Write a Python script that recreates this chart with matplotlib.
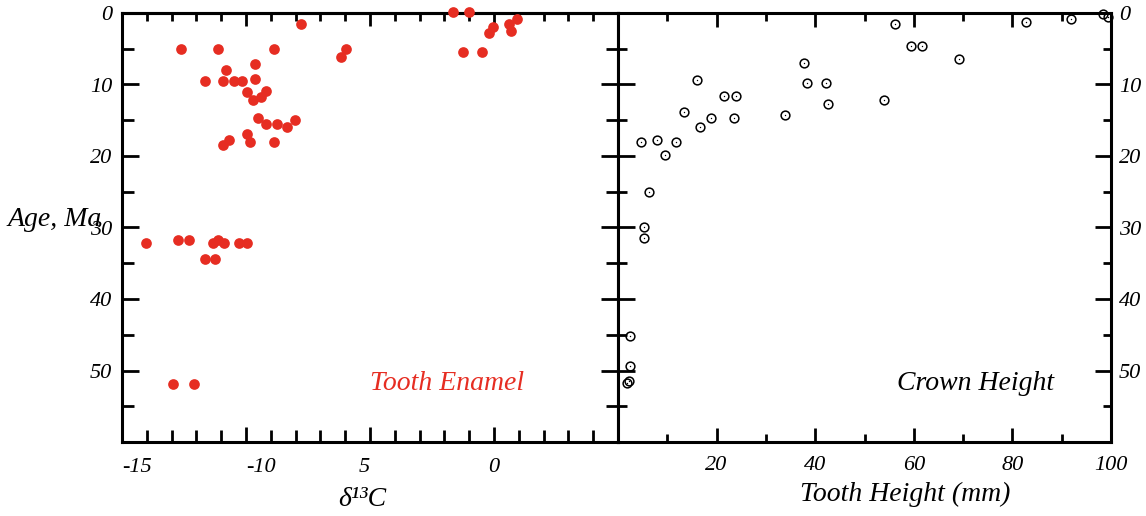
import matplotlib.pyplot as plt
from matplotlib import transforms
import numpy as np

plt.rcParams['font.family'] = ['Liberation Serif', 'DejaVu Serif']
plt.rcParams['font.style'] = 'italic'

# tooth enamel d13C (per mil) vs age (Ma)
enamel_d13c = [-12.63, -11.13, -8.87, -5.97, -6.17, -9.63, -10.81, -11.65, -10.92, -10.48,
               -10.15, -9.63, -9.95, -9.19, -9.40, -9.73, -9.53, -9.19, -8.76, -8.33,
               -8.01, -10.69, -10.92, -9.95, -9.84, -8.87, -7.79, -1.67, -1.02, -0.03,
               -0.19, 0.59, 0.94, 0.70, -1.24, -0.48, -14.03, -12.74, -12.31, -11.34,
               -11.12, -10.89, -10.27, -9.95, -11.67, -11.24, -12.96, -12.08]
enamel_age = [5.0, 5.0, 5.0, 5.0, 6.2, 7.2, 8.0, 9.5, 9.5, 9.5,
              9.5, 9.2, 11.0, 10.9, 11.7, 12.2, 14.7, 15.5, 15.5, 15.9,
              15.0, 17.7, 18.4, 16.9, 18.1, 18.1, 1.5, -0.2, -0.2, 1.9,
              2.8, 1.5, 0.9, 2.5, 5.4, 5.4, 32.2, 31.8, 31.8, 32.2,
              31.7, 32.2, 32.2, 32.2, 34.4, 34.4, 51.9, 51.9]

# crown height (mm) vs age (Ma)
crown_height = [37.7, 16.1, 38.3, 42.1, 21.4, 24.0, 42.5, 13.4, 18.8, 23.6,
                33.9, 16.6, 4.6, 7.9, 11.7, 9.6, 6.3, 5.2, 5.2, 56.2,
                59.4, 61.6, 69.2, 53.9, 82.7, 91.8, 98.3, 99.3, 2.4, 2.4,
                2.2, 1.8]
crown_age = [7.0, 9.4, 9.8, 9.8, 11.6, 11.6, 12.7, 13.9, 14.7, 14.7,
             14.3, 15.9, 18.0, 17.7, 18.0, 19.9, 25.1, 29.9, 31.5, 1.6,
             4.6, 4.6, 6.4, 12.1, 1.3, 0.8, 0.1, 0.5, 45.2, 49.4,
             51.5, 51.8]

age_ticks = [0, 10, 20, 30, 40, 50]
d13c_ticks = [-15, -10, -5, 0]
d13c_labels = ['-15', '-10', '5', '0']
height_ticks = [20, 40, 60, 80, 100]

red = '#e62d22'
W, H = 1146, 516
fig = plt.figure(figsize=(W / 100, H / 100), dpi=100)
axL = fig.add_axes([122 / W, 74 / H, 496 / W, 429 / H])
axR = fig.add_axes([618 / W, 74 / H, 493 / W, 429 / H])

def px(p):
    return p * 0.72

for ax in (axL, axR):
    for s in ax.spines.values():
        s.set_linewidth(2.2)
    ax.set_ylim(60, 0)
    ax.tick_params(labelbottom=False, labelleft=False)

# left panel
axL.set_xlim(-15, 5)
axL.set_xticks([-10, -5, 0])
axL.set_xticks(np.arange(-14, 5), minor=True)
axL.tick_params(axis='x', which='major', direction='in', length=px(15), width=2, top=False)
axL.tick_params(axis='x', which='minor', direction='in', length=px(12), width=2, top=False)
top = axL.secondary_xaxis('top')
top.set_xticks([-10, -5, 0])
top.set_xticks(np.arange(-14, 5), minor=True)
top.tick_params(which='major', direction='in', length=px(13), width=2, labeltop=False)
top.tick_params(which='minor', direction='in', length=px(8), width=2, labeltop=False)
top.spines['top'].set_linewidth(2.2)
axL.set_yticks(np.arange(10, 60, 10))
axL.set_yticks(np.arange(5, 60, 10), minor=True)
axL.tick_params(axis='y', which='major', direction='in', length=px(17), width=2, left=True, right=True)
axL.tick_params(axis='y', which='minor', direction='in', length=px(12), width=2, left=True, right=True)
axL.plot(enamel_d13c, enamel_age, 'o', ms=7.7, color=red, mec='none', clip_on=False, zorder=3)

# right panel
axR.set_xlim(0, 100)
axR.set_xticks(np.arange(20, 100, 20))
axR.set_xticks(np.arange(10, 100, 20), minor=True)
axR.tick_params(axis='x', which='major', direction='in', length=px(14), width=2, top=True)
axR.tick_params(axis='x', which='minor', direction='in', length=px(8), width=2, top=True)
axR.set_yticks(np.arange(10, 60, 10))
axR.set_yticks(np.arange(5, 60, 10), minor=True)
axR.tick_params(axis='y', which='major', direction='in', length=px(16.5), width=2, left=True, right=True)
axR.tick_params(axis='y', which='minor', direction='in', length=px(8.5), width=2, left=True, right=True)
axR.plot(crown_height, crown_age, 'o', ms=6.3, mfc='none', mec='black', mew=1.1, clip_on=False, zorder=3)
axR.plot(crown_height, crown_age, 'o', ms=1.0, color='black', mec='none', clip_on=False, zorder=3)

# tick labels
fs = 16
tl = transforms.blended_transform_factory(axL.transAxes, axL.transData)
for v in age_ticks:
    axL.text(-10 / 496, v + 0.4, str(v), transform=tl, ha='right', va='center', fontsize=fs)
tr = transforms.blended_transform_factory(axR.transAxes, axR.transData)
for v in age_ticks:
    axR.text(1 + 8 / 493, v + 0.4, str(v), transform=tr, ha='left', va='center', fontsize=fs)
tb = transforms.blended_transform_factory(axL.transData, axL.transAxes)
for v, s in zip(d13c_ticks, d13c_labels):
    ha = 'left' if s.startswith('-') else ('right' if s == '5' else 'center')
    axL.text(v, -26 / 429, s, transform=tb, ha=ha, va='center', fontsize=fs)
tb2 = transforms.blended_transform_factory(axR.transData, axR.transAxes)
for v in height_ticks:
    axR.text(v, -23 / 429, str(v), transform=tb2, ha='center', va='center', fontsize=fs)

# axis titles and panel labels
fig.text(8 / W, 1 - 220 / H, 'Age, Ma', ha='left', va='center', fontsize=20)
fig.text(362 / W, 1 - 500 / H, 'δ¹³C', ha='center', va='center', fontsize=20)
fig.text(905 / W, 1 - 494 / H, 'Tooth Height (mm)', ha='center', va='center', fontsize=20)
fig.text(447 / W, 1 - 383 / H, 'Tooth Enamel', ha='center', va='center', fontsize=20, color=red)
fig.text(976 / W, 1 - 383 / H, 'Crown Height', ha='center', va='center', fontsize=20)

fig.savefig('out.png', dpi=100)
